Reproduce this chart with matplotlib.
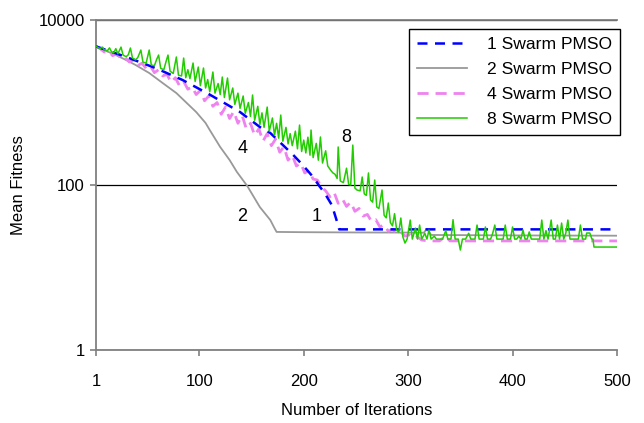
import numpy as np
import matplotlib.pyplot as plt
from matplotlib.ticker import FixedLocator, NullLocator, FixedFormatter

plt.rcParams['font.family'] = ['Liberation Sans', 'DejaVu Sans']

# 1 swarm PMSO (blue dashed)
it_1 = [1, 30, 58, 84, 109, 139, 158, 168, 190, 199, 209, 215, 220, 227, 232, 234, 500]
fit_1 = [4800, 3565, 2620, 1874, 1268, 767, 505, 427, 231, 175, 125, 97, 80, 57, 35.6, 29, 29]

# 2 swarm PMSO (gray)
it_2 = [1, 20, 30, 39, 52, 65, 78, 87, 97, 106, 110, 120, 129, 136, 146, 158, 168, 172,
        174, 200, 250, 300, 315, 318, 322, 400, 500]
fit_2 = [4750, 3765, 3270, 2850, 2280, 1720, 1303, 1014, 767, 565, 464, 289, 201, 144,
         97, 54, 37.6, 30, 27, 26.8, 26.6, 26.5, 26.4, 29.5, 24.8, 24.5, 24.3]

# 4 swarm PMSO (violet dashed, noisy)
it_4 = [1, 5, 9, 13, 17, 21, 25, 29, 33, 37, 41, 45, 49, 53, 57, 61, 65, 69, 73, 77,
        81, 85, 89, 93, 97, 101, 105, 109, 113, 117, 121, 125, 129, 133, 137, 141, 145,
        149, 153, 157, 161, 165, 169, 173, 177, 181, 185, 189, 193, 197, 201, 205, 209,
        213, 217, 221, 225, 229, 233, 237, 241, 245, 249, 253, 257, 261, 265, 269, 273,
        277, 281, 285, 289, 293, 297, 301, 305, 309, 313, 320, 330, 336, 340, 400, 500]
fit_4 = [4800, 4500, 4100, 4200, 3700, 3900, 3400, 3500, 3100, 3300, 2800, 3000, 2600,
         2800, 2300, 2500, 2100, 2200, 1750, 2000, 1600, 1800, 1450, 1550, 1250, 1400,
         1050, 1200, 900, 1000, 720, 880, 640, 780, 560, 700, 480, 560, 400, 480, 340,
         420, 300, 360, 250, 290, 200, 230, 170, 185, 140, 150, 118, 115, 95, 85, 72, 82,
         60, 68, 55, 62, 48, 52, 42, 44, 36, 38, 31, 33, 27.5, 29, 26, 27, 24, 25, 22.5,
         23.5, 21.5, 21, 21, 24, 21, 21, 21]

# 8 swarm PMSO (green, noisy)
it_8 = [1, 3, 5, 7, 9, 12, 14, 16, 18, 20, 22, 25, 27, 30, 32, 34, 36, 39, 41, 44, 46,
        49, 52, 54, 57, 59, 61, 63, 66, 68, 70, 72, 75, 78, 80, 83, 85, 87, 89, 91, 94,
        96, 99, 101, 104, 106, 108, 110, 113, 115, 118, 120, 122, 124, 127, 129, 132,
        134, 137, 139, 142, 144, 147, 149, 151, 153, 156, 158, 160, 162, 165, 167, 170,
        172, 174, 176, 178, 180, 183, 185, 187, 189, 192, 194, 196, 198, 200, 202, 204,
        206, 207, 209, 212, 214, 216, 218, 221, 223, 226, 228, 230, 232, 233, 235, 238,
        241, 243, 245, 247, 249, 251, 254, 256, 258, 260, 262, 264, 266, 268, 270, 272,
        275, 277, 279, 281, 283, 285, 287, 289, 291, 293, 295, 297, 299, 302, 304, 307,
        309, 311, 313, 316, 318, 320, 322, 325, 327, 333, 336, 338, 341, 343, 345, 348,
        350, 352, 355, 358, 360, 364, 366, 368, 372, 374, 376, 379, 381, 383, 385, 391,
        393, 395, 398, 400, 402, 404, 406, 408, 410, 412, 414, 416, 418, 426, 428, 430,
        432, 434, 437, 439, 441, 443, 445, 447, 449, 451, 453, 455, 463, 465, 467, 470,
        471, 474, 476, 477, 478, 500]
fit_8 = [4800, 4650, 4500, 4700, 4350, 4250, 4600, 4100, 4000, 4500, 3900, 4700, 3750,
         3600, 3800, 4580, 3450, 3300, 3500, 4330, 3100, 3000, 4330, 2850, 2800, 3300,
         3765, 2600, 2500, 3100, 3765, 2400, 2250, 3565, 2150, 2100, 3460, 2000, 2500,
         1950, 3013, 1800, 2692, 1600, 2620, 1500, 1900, 1350, 2344, 1300, 1700, 1250,
         2038, 1150, 1982, 1080, 1500, 950, 1300, 850, 1200, 740, 1000, 680, 1233, 610,
         900, 540, 750, 500, 881, 450, 650, 400, 560, 370, 705, 340, 500, 315, 420, 300,
         450, 275, 533, 255, 350, 245, 380, 230, 464, 215, 320, 200, 382, 185, 260, 170,
         150, 140, 135, 120, 289, 112, 107, 160, 102, 100, 305, 92, 87, 85, 125, 78, 75,
         140, 66, 62, 115, 54, 52, 87, 43, 40, 60.5, 35, 32, 45, 28.5, 27, 39.8, 23.4,
         19.8, 22.1, 37.6, 22.1, 30, 22.1, 32.7, 22.1, 26, 22.1, 28.5, 22.1, 24, 22.1,
         22.1, 28, 22.1, 22.1, 38, 22.1, 22.1, 16.3, 22.1, 22.1, 26, 22.1, 22.1, 32.7,
         22.1, 22.1, 31, 22.1, 22.1, 26, 32.7, 22.1, 22.1, 32.7, 22.1, 22.1, 31, 22.1,
         22.1, 24, 22.1, 28.5, 22.1, 22.1, 27, 22.1, 22.1, 37.6, 22.1, 28, 22.1, 37.6,
         22.1, 22.1, 32.7, 22.1, 34.6, 22.1, 26, 37.6, 22.1, 22.1, 32.7, 22.1, 22.1,
         26.2, 26.2, 22.1, 22.1, 17.7, 17.7]

x_ticks = [1, 100, 200, 300, 400, 500]
y_ticks = [1, 100, 10000]

fig = plt.figure(figsize=(6.44, 4.23), dpi=100)
ax = fig.add_axes([0.149, 0.1726, 0.809, 0.780])

ax.plot(it_2, fit_2, color='#999999', lw=1.3, label='2 Swarm PMSO', zorder=3)
ax.plot(it_4, fit_4, color='#EE82EE', lw=2.0, dashes=(4, 2.5), label='4 Swarm PMSO', zorder=4)
ax.plot(it_1, fit_1, color='#0000FF', lw=1.8, dashes=(4, 3), label='1 Swarm PMSO', zorder=5)
ax.plot(it_8, fit_8, color='#22CC00', lw=1.1, label='8 Swarm PMSO', zorder=6)

ax.set_yscale('log')
ax.set_xlim(1, 500)
ax.set_ylim(1, 10000)
ax.yaxis.set_major_locator(FixedLocator(y_ticks))
ax.yaxis.set_major_formatter(FixedFormatter([str(v) for v in y_ticks]))
ax.yaxis.set_minor_locator(NullLocator())
ax.xaxis.set_major_locator(FixedLocator(x_ticks))

ax.grid(axis='y', color='black', lw=0.9, zorder=1)
ax.set_axisbelow(True)
for s in ['top', 'left', 'bottom']:
    ax.spines[s].set_color('#808080')
    ax.spines[s].set_linewidth(1.3)
ax.spines['right'].set_visible(False)
ax.tick_params(axis='y', color='#808080', length=4.5, width=1.2, pad=3.5, labelsize=12)
ax.tick_params(axis='x', color='#808080', length=4, width=1.2, pad=13, labelsize=12)

ax.set_xlabel('Number of Iterations', fontsize=12)
ax.set_ylabel('Mean Fitness', fontsize=12)
ax.xaxis.set_label_coords(0.5, -0.16)
ax.yaxis.set_label_coords(-0.135, 0.5)

ax.text(141, 280, '4', fontsize=13, ha='center', va='center')
ax.text(241, 382, '8', fontsize=13, ha='center', va='center')
ax.text(141, 42, '2', fontsize=13, ha='center', va='center')
ax.text(212, 42, '1', fontsize=13, ha='center', va='center')

h, l = ax.get_legend_handles_labels()
order = [2, 0, 1, 3]
leg = ax.legend([h[k] for k in order], [l[k] for k in order],
                loc='upper right', bbox_to_anchor=(0.962, 0.931),
                bbox_transform=fig.transFigure, prop={'size': 12.6}, frameon=True,
                fancybox=False, framealpha=1, edgecolor='black', borderaxespad=0,
                handlelength=2.9, labelspacing=0.55, borderpad=0.45, handletextpad=1.1)
leg.get_frame().set_linewidth(1.0)

fig.savefig('out.png', dpi=100)
